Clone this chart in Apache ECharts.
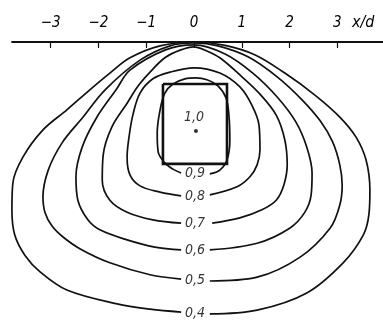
<!DOCTYPE html>
<html>
<head>
<meta charset="utf-8">
<script src="https://cdn.jsdelivr.net/npm/echarts@6/dist/echarts.min.js"></script>
<style>
  html, body { margin: 0; padding: 0; background: #ffffff; }
  #chart { width: 383px; height: 323px; }
</style>
</head>
<body>
<div id="chart"></div>
<script>
// Isolines of the relative quantity around a square body, coordinates in x/d and y/d (y downward).
const xTicks = [-3, -2, -1, 0, 1, 2, 3];

const levels = [0.4, 0.5, 0.6, 0.7, 0.8, 0.9];

// Each isoline runs from the right end of its label gap, over the top, back to the left end.
const line04 = [[0.33,5.69],[1.32,5.61],[2.36,5.25],[3.12,4.62],[3.54,4.04],[3.66,3.60],[3.68,3.10],[3.60,2.47],[3.39,1.99],[3.05,1.57],[2.53,1.11],[1.90,0.65],[1.28,0.27],[0.65,0.07],[0,0],[-0.71,0.08],[-1.34,0.33],[-1.76,0.65],[-2.18,1.00],[-2.66,1.42],[-3.16,1.84],[-3.58,2.41],[-3.79,2.95],[-3.81,3.51],[-3.75,4.04],[-3.54,4.46],[-3.22,4.81],[-2.66,5.19],[-1.61,5.48],[-0.92,5.59],[-0.27,5.65]];
const line05 = [[0.33,5.00],[1.32,4.92],[2.22,4.50],[2.85,3.89],[3.05,3.41],[3.10,2.99],[3.05,2.57],[2.90,2.09],[2.64,1.65],[2.26,1.21],[1.74,0.73],[1.13,0.31],[0.50,0.08],[0,0.02],[-0.50,0.08],[-1.13,0.38],[-1.86,1.00],[-2.32,1.57],[-2.76,2.11],[-3.05,2.68],[-3.16,3.24],[-3.12,3.56],[-2.97,3.85],[-2.74,4.08],[-2.38,4.33],[-1.76,4.62],[-0.92,4.87],[-0.27,4.96]];
const line06 = [[0.33,4.35],[1.32,4.21],[2.01,3.89],[2.32,3.56],[2.45,3.20],[2.47,2.74],[2.36,2.20],[2.13,1.67],[1.74,1.15],[1.23,0.65],[0.65,0.25],[0,0.06],[-0.61,0.17],[-1.34,0.59],[-1.63,1.00],[-2.03,1.57],[-2.34,2.20],[-2.47,2.82],[-2.43,3.31],[-2.22,3.72],[-1.97,3.93],[-1.40,4.14],[-0.82,4.29],[-0.27,4.35]];
const line07 = [[0.38,3.79],[0.96,3.68],[1.42,3.51],[1.72,3.31],[1.88,2.99],[1.95,2.57],[1.90,2.05],[1.72,1.53],[1.38,1.09],[0.96,0.69],[0.54,0.33],[0.23,0.17],[0,0.10],[-0.29,0.17],[-0.61,0.33],[-0.92,0.63],[-1.17,0.92],[-1.40,1.28],[-1.72,1.78],[-1.90,2.36],[-1.92,2.89],[-1.76,3.31],[-1.40,3.56],[-0.86,3.72],[-0.27,3.79]];
const line08 = [[0.33,3.20],[0.90,3.03],[1.17,2.82],[1.32,2.57],[1.38,2.26],[1.36,1.74],[1.21,1.32],[0.96,0.94],[0.54,0.65],[0,0.54],[-0.50,0.63],[-0.86,0.77],[-1.13,1.07],[-1.28,1.53],[-1.36,1.99],[-1.40,2.41],[-1.34,2.78],[-1.13,3.01],[-0.71,3.14],[-0.27,3.22]];
const line09 = [[0.33,2.76],[0.54,2.68],[0.69,2.47],[0.75,2.05],[0.73,1.53],[0.67,1.17],[0.50,0.92],[0.27,0.79],[0.04,0.75],[-0.19,0.77],[-0.44,0.88],[-0.61,1.07],[-0.71,1.42],[-0.77,1.90],[-0.75,2.30],[-0.61,2.53],[-0.44,2.66],[-0.27,2.74]];

// Label anchor depth (y/d) for each isoline, in the same order as levels.
const labelDepth = [5.67, 4.98, 4.35, 3.79, 3.22, 2.74];

// The square body: corners in x/d, y/d.
const bodyX = [-0.65, 0.69];
const bodyY = [0.88, 2.55];

// Maximum at the centre of the body.
const peakLevel = 1.0;
const peakLabelPos = [0.0, 1.57];
const peakPoint = [0.04, 1.86];

const isolines = [line04, line05, line06, line07, line08, line09];

const ink = '#000000';
const labelFont = {
  color: ink,
  fontFamily: 'DejaVu Sans Condensed, DejaVu Sans, sans-serif',
  fontStyle: 'italic',
  fontSize: 14
};
const fmt = v => v.toFixed(1).replace('.', ',');

const series = isolines.map(pts => ({
  type: 'line',
  data: pts,
  smooth: 0.35,
  showSymbol: false,
  symbol: 'none',
  clip: false,
  silent: true,
  lineStyle: { color: '#111', width: 1.7 }
}));

series.push({
  type: 'line',
  data: [[bodyX[0], bodyY[0]], [bodyX[1], bodyY[0]], [bodyX[1], bodyY[1]], [bodyX[0], bodyY[1]], [bodyX[0], bodyY[0]]],
  showSymbol: false,
  symbol: 'none',
  clip: false,
  lineStyle: { color: '#111', width: 2.6, join: 'miter' }
});

series.push({
  type: 'scatter',
  data: levels.map((lv, i) => [0.02, labelDepth[i], lv]).concat([[peakLabelPos[0], peakLabelPos[1], peakLevel]]),
  symbolSize: 1,
  itemStyle: { color: 'rgba(0,0,0,0)' },
  clip: false,
  label: {
    show: true,
    position: 'inside',
    formatter: p => fmt(p.value[2]),
    ...labelFont
  }
});

series.push({
  type: 'scatter',
  data: [peakPoint],
  symbolSize: 4,
  itemStyle: { color: ink },
  clip: false
});

const chart = echarts.init(document.getElementById('chart'), null, { renderer: 'canvas' });
chart.setOption({
  backgroundColor: '#ffffff',
  animation: false,
  grid: { left: 12, right: 0, top: 42, bottom: 0, containLabel: false, outerBoundsMode: 'none' },
  xAxis: {
    type: 'value',
    position: 'top',
    min: -3.808,
    max: 3.954,
    splitLine: { show: false },
    axisLine: { show: true, onZero: false, lineStyle: { color: '#111', width: 1.8 } },
    axisTick: { show: true, inside: true, length: 6, customValues: xTicks, lineStyle: { color: '#111', width: 1.2 } },
    axisLabel: {
      show: true,
      customValues: xTicks,
      margin: 11,
      formatter: v => (v < 0 ? '\u2212' + Math.abs(v) : String(v)),
      ...labelFont,
      fontSize: 15
    }
  },
  yAxis: {
    type: 'value',
    inverse: true,
    min: 0,
    max: 5.879,
    show: false,
    splitLine: { show: false }
  },
  graphic: [{
    type: 'text',
    left: 352,
    top: 15,
    style: { text: 'x/d', fill: ink, font: 'italic 16px "DejaVu Sans Condensed", "DejaVu Sans", sans-serif' }
  }],
  series: series
});
</script>
</body>
</html>
